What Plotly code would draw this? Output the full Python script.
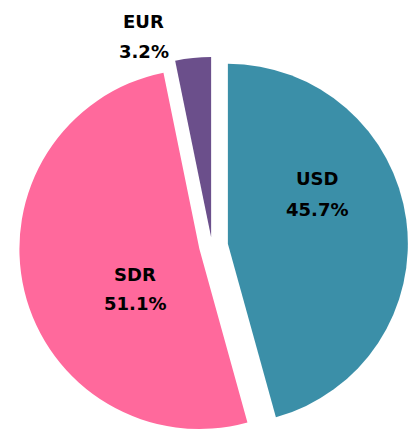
import plotly.graph_objects as go

labels = ["USD", "SDR", "EUR"]
values = [45.7, 51.1, 3.2]
colors = ["#3B8FA8", "#FF699C", "#6B4F8B"]
pulls = [0.089, 0.072, 0.05]

W, H = 408, 442

fig = go.Figure(
    go.Pie(
        labels=labels,
        values=values,
        sort=False,
        direction="clockwise",
        rotation=0,
        pull=pulls,
        marker=dict(colors=colors, line=dict(width=0)),
        textinfo="none",
        hoverinfo="label+percent",
        showlegend=False,
        domain=dict(x=[16 / W, 1], y=[0, 1 - 50 / H]),
    )
)

# label positions (pixel centres) for name and percentage lines
label_pos = {
    "USD": ((317, 178), (317, 209)),
    "SDR": ((135, 274), (135, 303)),
    "EUR": ((143, 21), (144, 51)),
}
font = dict(family="DejaVu Sans", size=18, color="black", weight="bold")
for lab, val in zip(labels, values):
    (x1, y1), (x2, y2) = label_pos[lab]
    for txt, (px, py) in ((lab, (x1, y1)), (f"{val:.1f}%", (x2, y2))):
        fig.add_annotation(
            text=txt, x=px / W, y=1 - py / H, xref="paper", yref="paper",
            xanchor="center", yanchor="middle", showarrow=False, font=font,
        )

fig.update_layout(
    width=W, height=H,
    margin=dict(l=0, r=0, t=0, b=0),
    paper_bgcolor="white",
    plot_bgcolor="white",
)

fig.write_html(
    "out.html",
    config={"displayModeBar": False},
    post_script="document.body.style.margin='0';",
)
